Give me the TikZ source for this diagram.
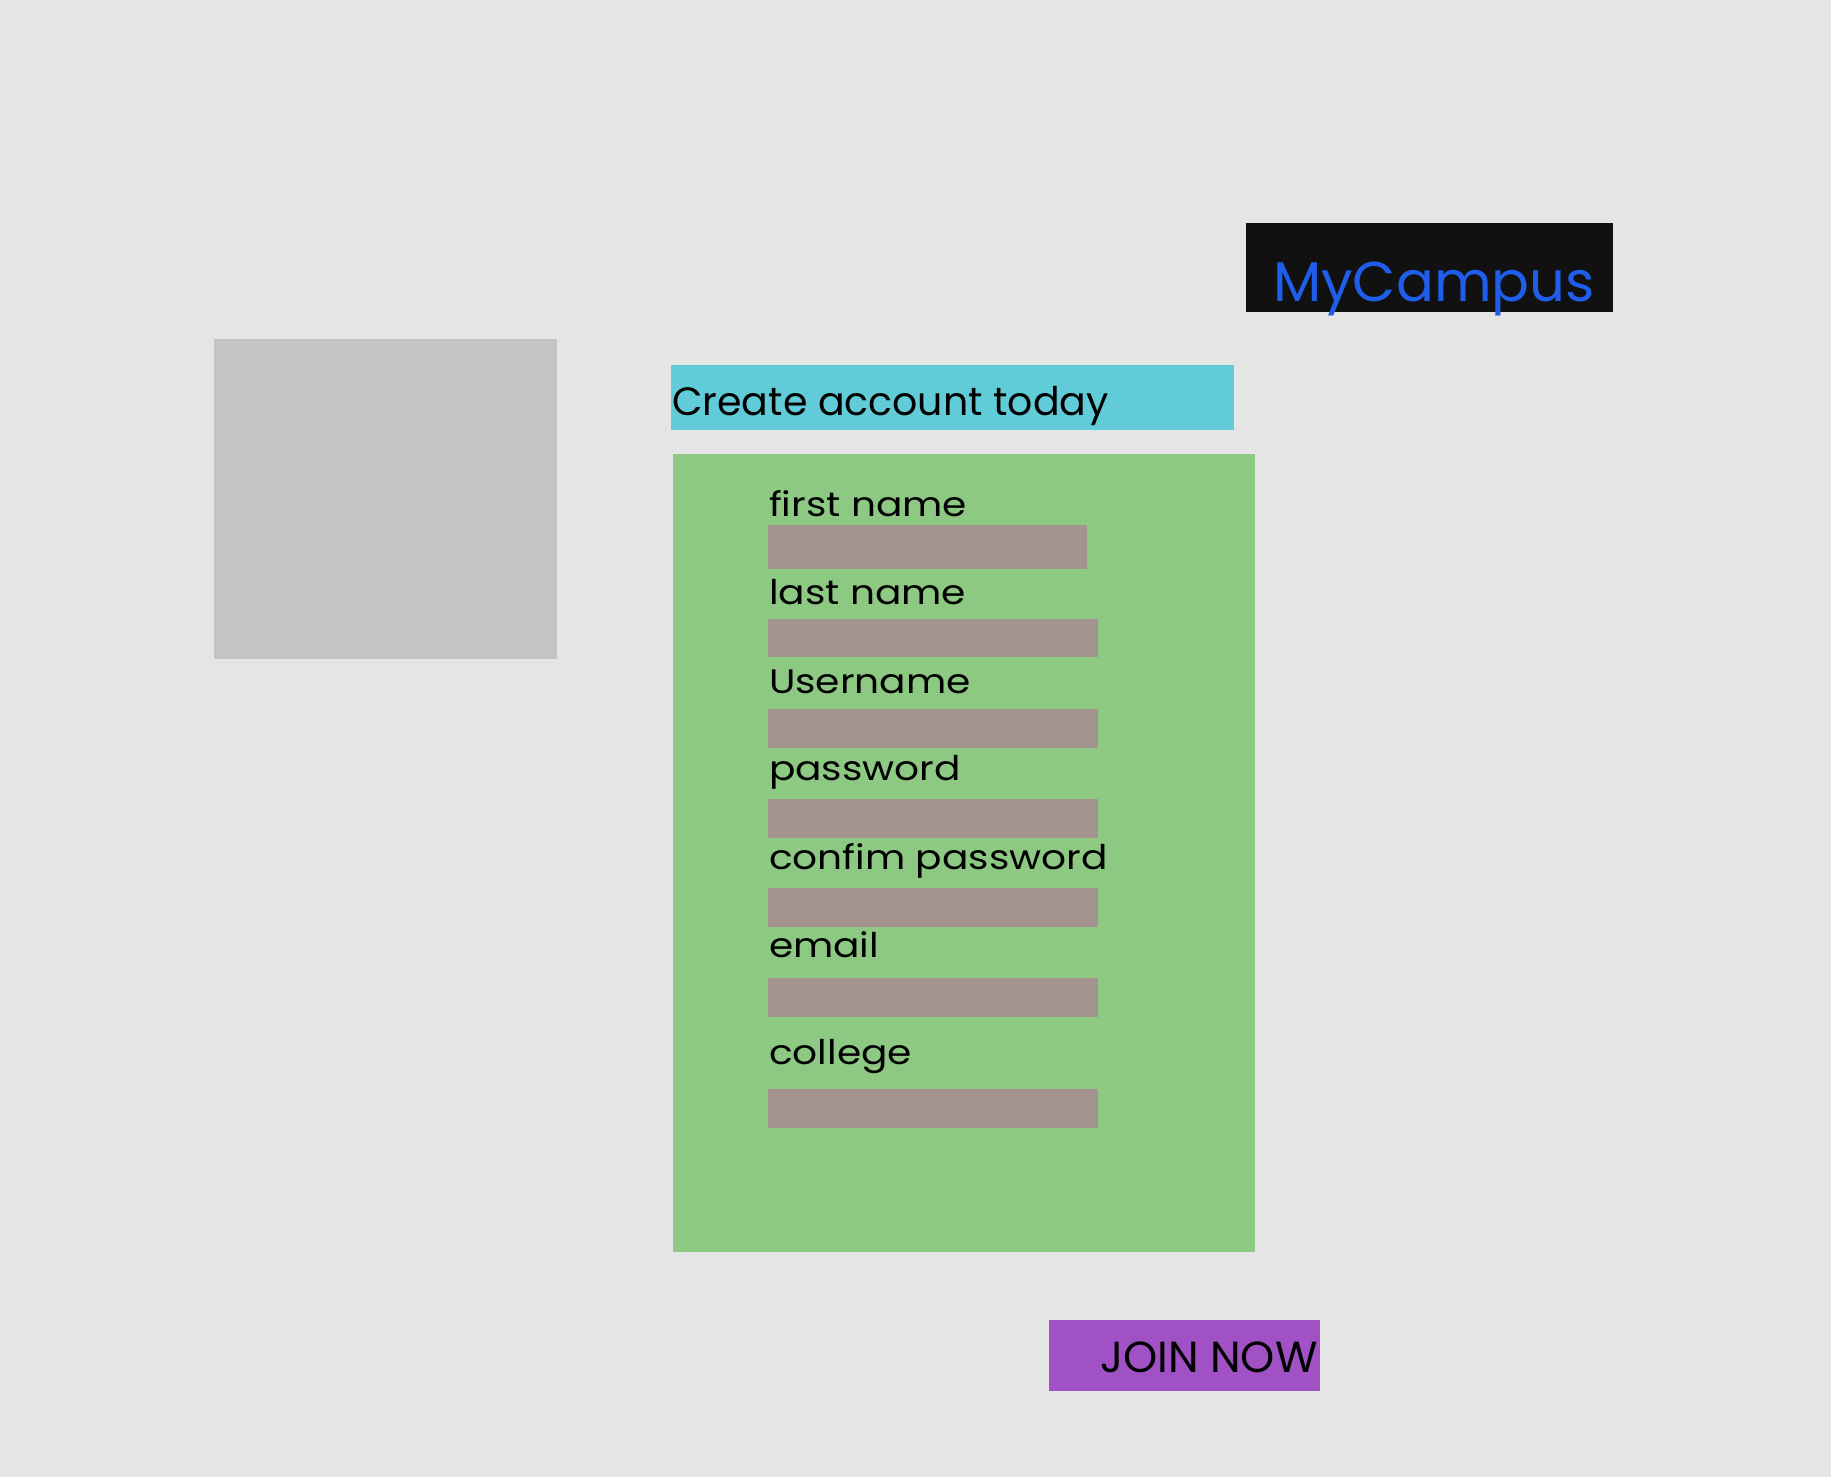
\documentclass[tikz,border=0pt]{standalone}
\usepackage{graphicx}
\usepackage{fontspec}
\setmainfont{Poppins}
\definecolor{bgc}{HTML}{E5E5E5}
\definecolor{imgc}{HTML}{C4C4C4}
\definecolor{cyanc}{HTML}{61CCD8}
\definecolor{greenc}{HTML}{8DC983}
\definecolor{inputc}{HTML}{A39391}
\definecolor{blackc}{HTML}{121112}
\definecolor{bluec}{HTML}{1F5EEB}
\definecolor{purplec}{HTML}{A052C4}
\newcommand\fieldtext[1]{\scalebox{1.15}[1]{#1}}
\begin{document}
\begin{tikzpicture}[x=1pt,y=-1pt,
  lbl/.style={anchor=base west, inner sep=0pt, outer sep=0pt, text=black, font=\fontsize{34}{40}\selectfont},
  field/.style={fill=inputc, draw=none}]
\fill[bgc] (0,0) rectangle (1831,1477);
\useasboundingbox (0,0) rectangle (1831,1477);
% logo box
\fill[blackc] (1246,223) rectangle (1613,312);
\node[anchor=base west, inner sep=0pt, text=bluec, font=\fontsize{56}{64}\selectfont] (logo) at (1273,301) {MyCampus};
% image placeholder
\fill[imgc] (214,339) rectangle (557,659);
% title
\fill[cyanc] (671,365) rectangle (1234,430);
\node[anchor=base west, inner sep=0pt, text=black, font=\fontsize{39.5}{46}\selectfont] (title) at (672,415) {Create account today};
% form
\fill[greenc] (673,454) rectangle (1255,1252);
\node[lbl] (l1) at (769,516) {\fieldtext{first name}};
\fill[field] (768,525) rectangle (1087,569);
\node[lbl] (l2) at (769,604) {\fieldtext{last name}};
\fill[field] (768,619) rectangle (1098,657);
\node[lbl] (l3) at (769,693) {\fieldtext{Username}};
\fill[field] (768,709) rectangle (1098,748);
\node[lbl] (l4) at (769,780) {\fieldtext{password}};
\fill[field] (768,799) rectangle (1098,838);
\node[lbl] (l5) at (769,869) {\fieldtext{confim password}};
\fill[field] (768,888) rectangle (1098,927);
\node[lbl] (l6) at (769,957) {\fieldtext{email}};
\fill[field] (768,978) rectangle (1098,1017);
\node[lbl] (l7) at (769,1064) {\fieldtext{college}};
\fill[field] (768,1089) rectangle (1098,1128);
% button
\fill[purplec] (1049,1320) rectangle (1320,1391);
\node[anchor=base west, inner sep=0pt, text=black, font=\fontsize{43.5}{50}\selectfont] (join) at (1100,1372) {JOIN NOW};
\end{tikzpicture}
\end{document}
